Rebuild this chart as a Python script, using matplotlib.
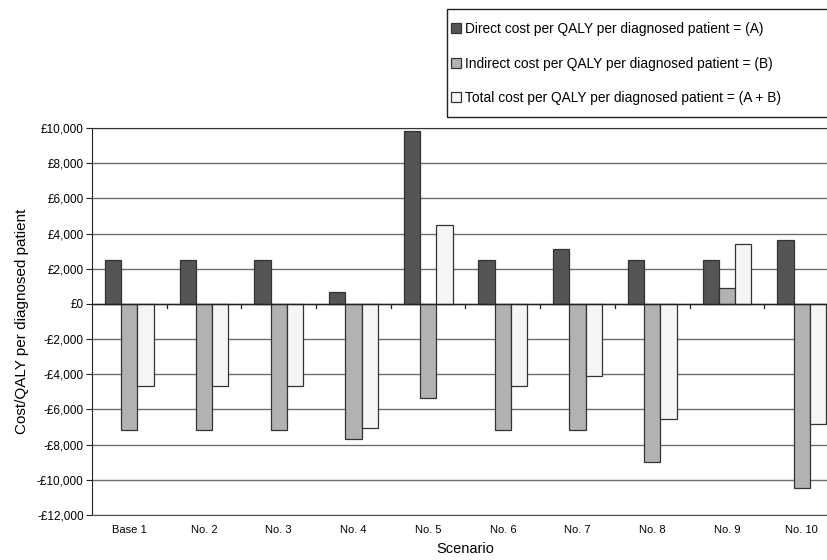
import matplotlib.pyplot as plt
import numpy as np
from matplotlib.ticker import FuncFormatter
from matplotlib.patches import Rectangle

plt.rcParams['font.family'] = ['Liberation Sans', 'DejaVu Sans']

scenarios = ['Base 1', 'No. 2', 'No. 3', 'No. 4', 'No. 5', 'No. 6', 'No. 7', 'No. 8', 'No. 9', 'No. 10']
direct = [2500, 2500, 2500, 650, 9850, 2500, 3100, 2500, 2500, 3620]
indirect = [-7170, -7170, -7170, -7670, -5330, -7170, -7170, -8980, 880, -10440]
total = [-4670, -4670, -4670, -7040, 4480, -4670, -4100, -6520, 3410, -6850]

labels = ['Direct cost per QALY per diagnosed patient = (A)',
          'Indirect cost per QALY per diagnosed patient = (B)',
          'Total cost per QALY per diagnosed patient = (A + B)']
colors = ['#555555', '#b2b2b2', '#f5f5f5']

fig = plt.figure(figsize=(8.28, 5.6), dpi=100)
# plot area runs slightly past the right edge of the figure
ax = fig.add_axes([92 / 828, 45 / 560, 747 / 828, 387 / 560])

x = np.arange(len(scenarios))
w = 0.218
bars = []
for k, (vals, c) in enumerate(zip([direct, indirect, total], colors)):
    b = ax.bar(x + (k - 1) * w, vals, w, color=c, edgecolor='#333333', linewidth=0.9, zorder=3)
    bars.append(b)

ax.set_xlim(-0.5, len(scenarios) - 0.5)
ax.set_ylim(-12000, 10000)
ax.set_yticks(np.arange(-12000, 10001, 2000))
ax.yaxis.set_major_formatter(FuncFormatter(lambda v, p: ('-£{:,.0f}' if v < 0 else '£{:,.0f}').format(abs(v))))
ax.grid(axis='y', color='#6e6e6e', linewidth=1.0, zorder=0)
ax.set_axisbelow(True)

# zero axis with category separators
ax.axhline(0, color='#222222', linewidth=1.0, zorder=4)
for i in x[1:]:
    ax.plot([i - 0.5, i - 0.5], [0, -250], color='#222222', linewidth=0.9, zorder=4)

ax.spines['right'].set_visible(False)
ax.spines['top'].set_color('#333333')
ax.spines['bottom'].set_color('#555555')
ax.spines['left'].set_color('#222222')
ax.tick_params(axis='y', length=4, width=0.8, labelsize=8.5, color='#222222', pad=2)
ax.tick_params(axis='x', length=0, labelsize=8, pad=7)
ax.set_xticks(x)
ax.set_xticklabels(scenarios)

ax.set_ylabel('Cost/QALY per diagnosed patient', fontsize=11, labelpad=6)
ax.set_xlabel('Scenario', fontsize=10.5, labelpad=5)

# legend box, open on the right like the plot area
fig.patches.append(Rectangle((447 / 828, 1 - 117 / 560), 400 / 828, 108 / 560,
                             transform=fig.transFigure, fill=False,
                             edgecolor='#222222', linewidth=1.0))
fig.legend(bars, labels, loc='upper left', bbox_to_anchor=(451 / 828, 1 - 22 / 560),
           fontsize=9.9, frameon=False, labelspacing=1.5, handlelength=0.75,
           handleheight=0.75, handletextpad=0.3, borderpad=0, borderaxespad=0)

fig.savefig('out.png', dpi=100)
